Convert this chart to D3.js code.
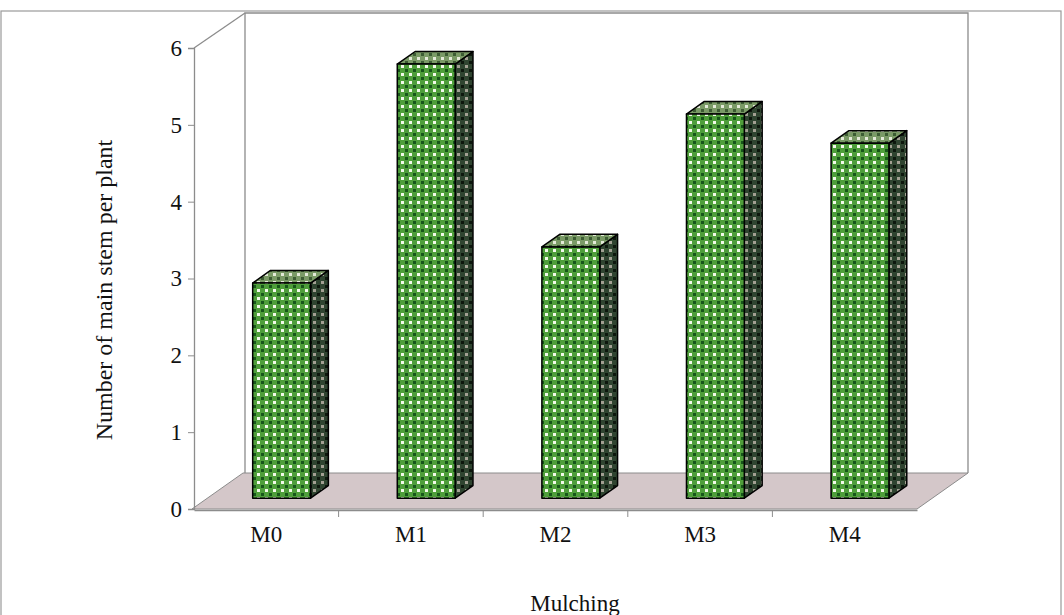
<!DOCTYPE html>
<html>
<head>
<meta charset="utf-8">
<script src="https://cdn.jsdelivr.net/npm/d3@7"></script>
<style>
  html, body { margin: 0; padding: 0; background: #fff; }
  svg { display: block; font-family: "Liberation Serif", "Times New Roman", serif; }
</style>
</head>
<body>
<svg id="chart" width="1064" height="615"></svg>
<script>
// Number of main stems per plant under each mulching treatment
const categories = ["M0", "M1", "M2", "M3", "M4"];
const stemValues = [2.8, 5.65, 3.27, 5.0, 4.62];
const yTicks = [0, 1, 2, 3, 4, 5, 6];
const yTitle = "Number of main stem per plant";
const xTitle = "Mulching";

const svg = d3.select("#chart");

// Plot frame (front plane) and 3-D depth vector
const front = { left: 194, right: 917, bottom: 509, top: 48 };
const depth = { dx: 51, dy: -36 };

const x = d3.scaleBand().domain(categories).range([front.left, front.right]).paddingInner(0).paddingOuter(0);
const y = d3.scaleLinear().domain([0, 6]).range([front.bottom, front.top]);

// Gingham-style fills for the column faces
const defs = svg.append("defs");
function checker(id, mid, light, dark) {
  const p = defs.append("pattern").attr("id", id).attr("patternUnits", "userSpaceOnUse")
    .attr("width", 8).attr("height", 8);
  p.append("rect").attr("width", 8).attr("height", 8).attr("fill", mid);
  p.append("rect").attr("x", 1).attr("y", 1).attr("width", 3).attr("height", 3).attr("fill", light);
  p.append("rect").attr("x", 5).attr("y", 5).attr("width", 3).attr("height", 3).attr("fill", dark);
}
checker("faceFront", "#4e9e3a", "#f2f9ea", "#17561a");
checker("faceSide", "#2f4430", "#a3a093", "#0d170d");
checker("faceTop", "#7a9a66", "#e3e9d8", "#3c5c33");

// Outer chart border
svg.append("rect").attr("x", 1).attr("y", 11).attr("width", 1060).attr("height", 640)
  .attr("fill", "none").attr("stroke", "#9a9a9a").attr("stroke-width", 1.2);

const wallStroke = "#8c8c8c";
const p = (px, py, f) => [px + depth.dx * f, py + depth.dy * f];
const line = d3.line();

// Floor
svg.append("path")
  .attr("d", line([p(front.left - 2, front.bottom, 0), p(front.right, front.bottom, 0),
                   p(front.right, front.bottom, 1), p(front.left - 2, front.bottom, 1)]) + "Z")
  .attr("fill", "#d4c7c9").attr("stroke", wallStroke).attr("stroke-width", 1);

// Back wall and left side wall edges
const backLeft = p(front.left, 0, 1)[0];
const backRight = p(front.right, 0, 1)[0];
const backTop = y(6) + depth.dy + 1;
const backBottom = front.bottom + depth.dy;
svg.append("path")
  .attr("d", line([[backLeft, backBottom], [backLeft, backTop], [backRight, backTop], [backRight, backBottom]]))
  .attr("fill", "none").attr("stroke", wallStroke).attr("stroke-width", 1.3);
svg.append("path")
  .attr("d", line([[front.left, y(6)], [backLeft, backTop]]))
  .attr("fill", "none").attr("stroke", wallStroke).attr("stroke-width", 1.3);

// Y axis on the front plane
const yAxis = svg.append("g").attr("transform", `translate(${front.left},0)`)
  .call(d3.axisLeft(y).tickValues(yTicks).tickFormat(d3.format("d")).tickSize(6).tickPadding(6));
yAxis.select(".domain").attr("stroke", wallStroke).attr("stroke-width", 1.3);
yAxis.selectAll(".tick line").attr("stroke", wallStroke);
yAxis.selectAll(".tick text").attr("font-size", 23).attr("fill", "#111")
  .attr("font-family", "Liberation Serif, serif");

// X axis on the front edge of the floor
const xAxis = svg.append("g").attr("transform", `translate(0,${front.bottom + 1})`)
  .call(d3.axisBottom(x).tickSize(0).tickPadding(16));
xAxis.select(".domain").attr("stroke", wallStroke).attr("stroke-width", 1.3);
xAxis.selectAll(".tick text").attr("font-size", 23).attr("fill", "#111")
  .attr("font-family", "Liberation Serif, serif");
// Category separators
svg.append("g").selectAll("line").data(categories.slice(1)).join("line")
  .attr("x1", d => x(d)).attr("x2", d => x(d))
  .attr("y1", front.bottom + 1).attr("y2", front.bottom + 8)
  .attr("stroke", wallStroke);

// Columns
const f1 = 0.3, f2 = 0.65;
const barW = x.bandwidth() * 0.4;
const bars = svg.append("g").selectAll("g").data(categories.map((c, i) => ({ c, v: stemValues[i] }))).join("g");

bars.each(function (d) {
  const g = d3.select(this);
  const cx = x(d.c) + x.bandwidth() / 2;
  const x0 = cx - barW / 2, x1 = cx + barW / 2;
  const yb = y(0), yt = y(d.v);
  const A = p(x0, yt, f1), B = p(x1, yt, f1), C = p(x1, yb, f1), D = p(x0, yb, f1);
  const B2 = p(x1, yt, f2), C2 = p(x1, yb, f2), A2 = p(x0, yt, f2);
  g.append("path").attr("d", line([B, B2, C2, C]) + "Z")
    .attr("fill", "url(#faceSide)").attr("stroke", "#000").attr("stroke-width", 1.5).attr("stroke-linejoin", "round");
  g.append("path").attr("d", line([A, A2, B2, B]) + "Z")
    .attr("fill", "url(#faceTop)").attr("stroke", "#000").attr("stroke-width", 1.5).attr("stroke-linejoin", "round");
  g.append("path").attr("d", line([A, B, C, D]) + "Z")
    .attr("fill", "url(#faceFront)").attr("stroke", "#000").attr("stroke-width", 1.5).attr("stroke-linejoin", "round");
});

// Axis titles
svg.append("text").attr("transform", "translate(112,290) rotate(-90)")
  .attr("text-anchor", "middle").attr("font-size", 24).attr("fill", "#111").text(yTitle);
svg.append("text").attr("x", 575).attr("y", 611)
  .attr("text-anchor", "middle").attr("font-size", 23).attr("fill", "#111").text(xTitle);
</script>
</body>
</html>
